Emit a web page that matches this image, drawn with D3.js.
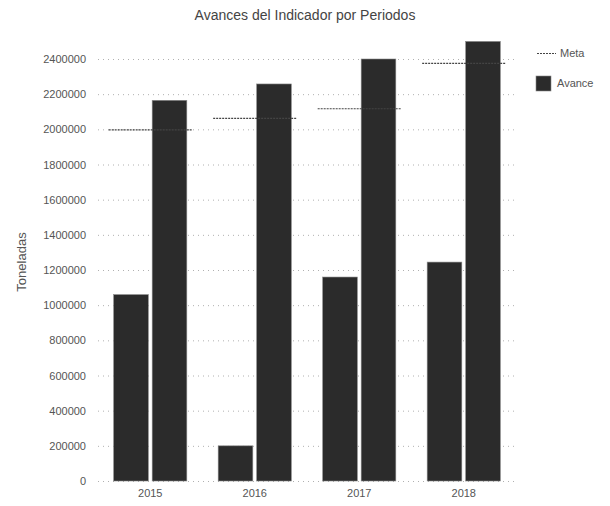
<!DOCTYPE html>
<html><head><meta charset="utf-8">
<script src="https://cdn.jsdelivr.net/npm/d3@7"></script>
<style>body{margin:0;background:#fff;}svg{display:block;font-family:"Liberation Sans",Arial,sans-serif;}</style>
</head><body>
<svg id="c" width="610" height="506"></svg>
<script>
const categories = ["2015", "2016", "2017", "2018"];
const avanceA = [1060000, 200000, 1160000, 1245000];
const avanceB = [2165000, 2258000, 2400000, 2500000];
const meta = [2000000, 2065000, 2120000, 2378000];
const yTicks = [0, 200000, 400000, 600000, 800000, 1000000, 1200000, 1400000, 1600000, 1800000, 2000000, 2200000, 2400000];

const svg = d3.select("#c");
const m = {l: 98, r: 516, t: 59, b: 481};
const y = d3.scaleLinear().domain([0, 2400000]).range([m.b, m.t]);
const x0 = d3.scaleBand().domain(categories).range([m.l, m.r]).paddingInner(0.3).paddingOuter(0.15);
const x1 = d3.scaleBand().domain(["a", "b"]).range([0, x0.bandwidth()]).paddingInner(0.1);

// grid
svg.append("g").selectAll("line").data(yTicks).join("line")
  .attr("x1", m.l).attr("x2", m.r)
  .attr("y1", d => y(d) + 0.5).attr("y2", d => y(d) + 0.5)
  .attr("stroke", "#b0b0b0").attr("stroke-width", 1).attr("stroke-dasharray", "1,4");

// y axis
const ya = svg.append("g").attr("transform", `translate(${m.l},0)`)
  .call(d3.axisLeft(y).tickValues(yTicks).tickFormat(d3.format("d")).tickSize(0).tickPadding(12));
ya.select(".domain").remove();
ya.selectAll("text").attr("fill", "#555").attr("font-size", 11).attr("font-family", "Liberation Sans, Arial, sans-serif");

// x axis
const xa = svg.append("g").attr("transform", `translate(0,${m.b})`)
  .call(d3.axisBottom(x0).tickSize(0).tickPadding(8));
xa.select(".domain").remove();
xa.selectAll("text").attr("fill", "#555").attr("font-size", 11).attr("font-family", "Liberation Sans, Arial, sans-serif");

// bars
const rows = categories.map((c, i) => ({c, a: avanceA[i], b: avanceB[i], m: meta[i]}));
const g = svg.append("g").selectAll("g").data(rows).join("g")
  .attr("transform", d => `translate(${x0(d.c)},0)`);
g.selectAll("rect").data(d => [{k: "a", v: d.a}, {k: "b", v: d.b}]).join("rect")
  .attr("x", d => x1(d.k)).attr("width", x1.bandwidth())
  .attr("y", d => y(d.v)).attr("height", d => y(0) - y(d.v))
  .attr("fill", "#2b2b2b").attr("stroke", "#888").attr("stroke-width", 0.6);

// meta segments
svg.append("g").selectAll("line").data(rows).join("line")
  .attr("x1", d => x0(d.c) - 5).attr("x2", d => x0(d.c) + x0.bandwidth() + 5)
  .attr("y1", d => y(d.m) + 0.5).attr("y2", d => y(d.m) + 0.5)
  .attr("stroke", "#444").attr("stroke-width", 1.2).attr("stroke-dasharray", "2,1");

// title
svg.append("text").attr("x", 305).attr("y", 20).attr("text-anchor", "middle")
  .attr("font-size", 14).attr("fill", "#444").text("Avances del Indicador por Periodos");

// y title
svg.append("text").attr("transform", "translate(26,262) rotate(-90)").attr("text-anchor", "middle")
  .attr("font-size", 13).attr("fill", "#555").text("Toneladas");

// legend
const lg = svg.append("g");
lg.append("line").attr("x1", 537).attr("x2", 556).attr("y1", 53.5).attr("y2", 53.5)
  .attr("stroke", "#444").attr("stroke-width", 1.2).attr("stroke-dasharray", "2,1");
lg.append("text").attr("x", 560).attr("y", 57).attr("font-size", 11).attr("fill", "#555").text("Meta");
lg.append("rect").attr("x", 536).attr("y", 76).attr("width", 15).attr("height", 15)
  .attr("fill", "#2b2b2b").attr("stroke", "#888").attr("stroke-width", 0.6);
lg.append("text").attr("x", 557).attr("y", 87).attr("font-size", 11).attr("fill", "#555").text("Avance");
</script>
</body></html>
